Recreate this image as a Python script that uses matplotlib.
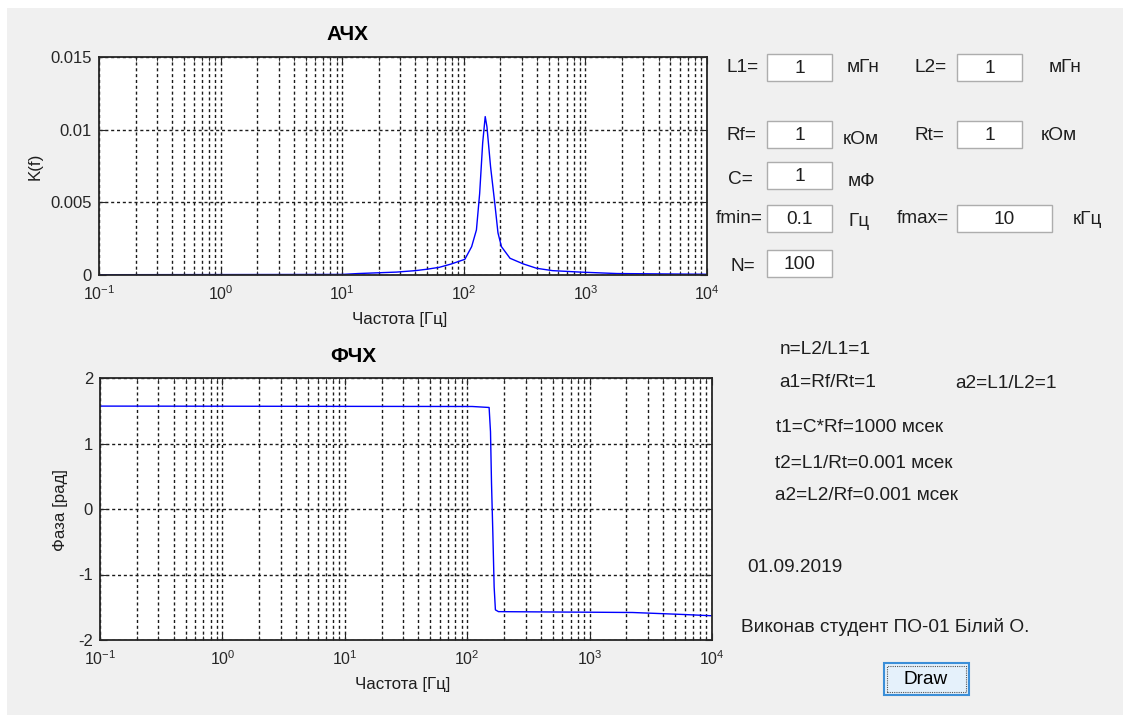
import numpy as np
import matplotlib
matplotlib.use("Agg")
import matplotlib.pyplot as plt
from matplotlib.patches import Rectangle
from matplotlib.ticker import FixedLocator, FixedFormatter, LogLocator, NullFormatter

plt.rcParams['font.family'] = ['Liberation Sans', 'DejaVu Sans']
plt.rcParams['mathtext.fontset'] = 'custom'
plt.rcParams['mathtext.rm'] = 'Liberation Sans'

# amplitude response (Hz, K)
f_amp = [0.1, 10, 13.5, 28, 40, 50, 63, 79, 102, 116, 127, 135, 143, 150,
         155, 166, 180, 191, 204, 240, 309, 398, 537, 902, 1820, 10000]
k_amp = [0.00002, 0.00004, 0.0001, 0.0002, 0.0003, 0.0004, 0.00053, 0.00076,
         0.00108, 0.00195, 0.0031, 0.0056, 0.0091, 0.0109, 0.0102, 0.00745,
         0.0049, 0.0029, 0.00195, 0.00115, 0.00076, 0.00046, 0.0003, 0.0002,
         0.0001, 0.00005]

# phase response (Hz, rad)
f_ph = [0.1, 110, 151, 155, 158, 162, 166, 170, 180, 2240, 5750, 10000]
ph = [1.571, 1.565, 1.55, 1.18, 0.39, -0.37, -1.19, -1.54, -1.567, -1.58, -1.61, -1.63]

xticks = [0.1, 1, 10, 100, 1000, 10000]
xlabels = [r'$\mathregular{10^{-1}}$', r'$\mathregular{10^{0}}$', r'$\mathregular{10^{1}}$',
           r'$\mathregular{10^{2}}$', r'$\mathregular{10^{3}}$', r'$\mathregular{10^{4}}$']
amp_yticks = [0, 0.005, 0.01, 0.015]
amp_ylabels = ['0', '0.005', '0.01', '0.015']
ph_yticks = [-2, -1, 0, 1, 2]

W, H = 1126, 715
fig = plt.figure(figsize=(W / 100, H / 100), dpi=100)
fig.patch.set_facecolor('white')


def fx(x):
    return x / W


def fy(y):
    return 1 - y / H


def box(x0, y0, x1, y1, **kw):
    fig.patches.append(Rectangle((fx(x0), fy(y1)), fx(x1 - x0), (y1 - y0) / H,
                                 transform=fig.transFigure, **kw))


def txt(x, y, s, **kw):
    kw.setdefault('fontsize', 13.7)
    kw.setdefault('color', '#1e1e1e')
    kw.setdefault('va', 'center')
    fig.text(fx(x), fy(y), s, **kw)


# grey panel
box(7, 8, 1123, 715, facecolor='#f0f0f0', edgecolor='none', zorder=-10)


def setup(ax, ylim, yticks, ylabels):
    ax.set_xscale('log')
    ax.set_xlim(0.1, 10000)
    ax.set_ylim(*ylim)
    ax.xaxis.set_major_locator(FixedLocator(xticks))
    ax.xaxis.set_major_formatter(FixedFormatter(xlabels))
    ax.xaxis.set_minor_locator(LogLocator(base=10, subs=np.arange(2, 10)))
    ax.xaxis.set_minor_formatter(NullFormatter())
    ax.set_yticks(yticks)
    ax.set_yticklabels(ylabels)
    ax.tick_params(which='both', direction='in', top=True, right=True, colors='#262626')
    ax.tick_params(which='major', length=5)
    ax.tick_params(which='minor', length=3)
    ax.tick_params(axis='x', labelsize=11.5, pad=7)
    ax.tick_params(axis='y', labelsize=12, pad=5)
    grid_kw = dict(color='#1a1a1a', linestyle=(0, (2.2, 2.0)), linewidth=1.0)
    ax.grid(True, which='major', **grid_kw)
    ax.xaxis.grid(True, which='minor', **grid_kw)
    for sp in ax.spines.values():
        sp.set_linewidth(1.3)
        sp.set_color('#262626')
    ax.set_facecolor('white')


ax1 = fig.add_axes([fx(99), fy(275), fx(707 - 99), (275 - 57) / H])
ax1.plot(f_amp, k_amp, color='#0000ff', linewidth=1)
setup(ax1, (0, 0.015), amp_yticks, amp_ylabels)

ax2 = fig.add_axes([fx(100), fy(640), fx(712 - 100), (640 - 378) / H])
ax2.plot(f_ph, ph, color='#0000ff', linewidth=1)
setup(ax2, (-2, 2), ph_yticks, [str(v) for v in ph_yticks])

# titles and axis labels
txt(347, 35, 'АЧХ', fontsize=15, fontweight='bold', ha='center', color='black')
txt(353, 357, 'ФЧХ', fontsize=15, fontweight='bold', ha='center', color='black')
txt(400, 320, 'Частота [Гц]', fontsize=12.2, ha='center')
txt(403, 685, 'Частота [Гц]', fontsize=12.2, ha='center')
txt(35, 166, 'K(f)', fontsize=12.2, ha='center', rotation=90)
txt(61, 510, 'Фаза [рад]', fontsize=12.2, ha='center', rotation=90)

# input fields
field_labels = ['L1=', 'L2=', 'Rf=', 'Rt=', 'C=', 'fmin=', 'fmax=', 'N=']
field_values = ['1', '1', '1', '1', '1', '0.1', '10', '100']
field_units = ['мГн', 'мГн', 'кОм', 'кОм', 'мФ', 'Гц', 'кГц', '']
label_pos = [(727, 67), (914, 67), (727, 135), (914, 135), (728, 180), (716, 218), (897, 218), (730, 267)]
box_pos = [(767, 54, 832, 81), (957, 54, 1022, 81), (767, 121, 832, 148), (957, 121, 1022, 148),
           (767, 162, 832, 189), (767, 205, 832, 232), (957, 205, 1052, 232), (767, 250, 832, 277)]
unit_pos = [(847, 67), (1049, 67), (843, 139), (1041, 135), (848, 182), (849, 222), (1073, 220), (0, 0)]

for lab, val, unit, lp, bp, up in zip(field_labels, field_values, field_units, label_pos, box_pos, unit_pos):
    txt(lp[0], lp[1], lab, ha='left')
    box(*bp, facecolor='white', edgecolor='#adadad', linewidth=1)
    txt((bp[0] + bp[2]) / 2, (bp[1] + bp[3]) / 2 + 1, val, ha='center')
    if unit:
        txt(up[0], up[1], unit, ha='left')

# computed results
txt(780, 349, 'n=L2/L1=1', ha='left')
txt(779, 382, 'a1=Rf/Rt=1', ha='left')
txt(955, 384, 'a2=L1/L2=1', ha='left')
txt(776, 427, 't1=C*Rf=1000 мсек', ha='left')
txt(775, 464, 't2=L1/Rt=0.001 мсек', ha='left')
txt(775, 496, 'a2=L2/Rf=0.001 мсек', ha='left')
txt(747, 567, '01.09.2019', ha='left')
txt(741, 627, 'Виконав студент ПО-01 Білий О.', ha='left')

# Draw button
box(884, 663, 969, 695, facecolor='#e5f1fb', edgecolor='#3c8fd8', linewidth=1.5)
box(887, 666, 966, 692, facecolor='none', edgecolor='#555555', linewidth=0.8, linestyle=(0, (1, 1)))
txt(926, 680, 'Draw', ha='center', color='black')

fig.savefig('out.png', dpi=100, facecolor=fig.get_facecolor())
